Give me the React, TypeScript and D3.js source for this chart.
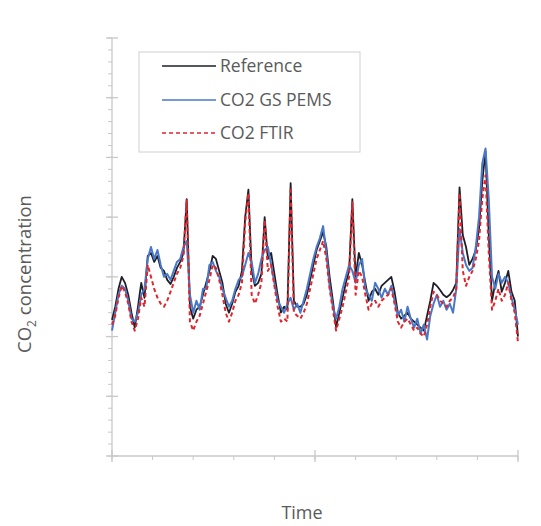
import React from "react";
import * as d3 from "d3";

const times: number[] = d3.range(0, 1001, 8);

const referenceValues: number[] = [
  22.8, 25, 28, 30, 29, 27, 24, 21.5, 25, 29,
  26.5, 33.5, 34, 32.5, 33.5, 31.5, 31, 29.5, 28.8, 30,
  31.5, 32.5, 34, 43, 25, 23, 24.5, 25, 27, 29,
  31, 33.5, 33, 31, 29, 25.5, 24, 25.5, 27.5, 28.5,
  31, 40, 44.6, 31, 28.5, 29, 30.5, 40, 33, 34,
  30.5, 27, 24, 25, 24.5, 45.7, 26, 25, 25, 25.5,
  27, 29.5, 32, 34.5, 36, 37.5, 35, 30, 26, 21.6,
  24, 26.5, 29, 31, 43, 30, 34, 32, 29, 26,
  27.5, 28, 27, 28.5, 29, 29.5, 30, 27.5, 24, 23,
  23.5, 24, 23, 22.5, 22, 21.5, 21, 23.5, 26, 29,
  28.5, 27.8, 27, 26.6, 27, 27.8, 29, 45, 37, 35,
  32, 33, 34.5, 38, 46, 51, 37, 26, 29, 31,
  27.5, 29, 31, 27.5, 26, 20,
];

const gsPemsValues: number[] = [
  21, 24, 27, 28.5, 28, 26, 23, 22.5, 24, 27,
  28, 33, 35, 33, 34.5, 32, 30, 30.5, 29.5, 31,
  32.5, 33, 35, 36, 27, 24, 26, 24.5, 28, 28,
  32, 32.5, 31, 30, 28, 26.5, 25, 26, 28, 29.5,
  30, 32, 34, 32.5, 29, 30.5, 33, 34.5, 35, 32,
  29, 26, 25, 24, 25.5, 26.5, 24.5, 25.5, 24, 26,
  28, 30.5, 33, 35, 36.5, 38.5, 34, 28.5, 25, 23,
  25, 28, 30, 32, 31, 29, 32, 33, 28, 27,
  26, 29, 28, 26.5, 28, 27, 28.5, 26, 23.5, 24.5,
  22.5, 25, 23, 21.5, 23, 20.5, 22, 19.5, 23.5, 25.5,
  27, 25, 26, 24.5, 25.5, 24, 28, 38, 34, 32,
  31, 31.5, 35, 40, 49, 51.5, 43, 30, 28, 30.5,
  29, 30, 29, 26.5, 24.5, 22,
];

const ftirValues: number[] = [
  22, 23.5, 26.5, 28.5, 27.5, 25.5, 22.5, 21, 23, 26.5,
  25, 32, 30, 28, 26.5, 25.5, 25, 26, 27.5, 29,
  30.5, 31.5, 33.5, 43, 22.5, 21, 22.5, 23.5, 25.5, 27.5,
  29.5, 32, 31.5, 29.5, 27, 24, 22.5, 24, 26, 27,
  29, 39, 44, 27, 25.5, 27, 29, 39.5, 31, 32,
  28.5, 25, 22.5, 23, 22.5, 45, 24, 23.5, 23, 24,
  25.5, 28, 30.5, 33, 34.5, 36, 33, 28, 24.5, 21,
  23, 25, 27.5, 30, 42.5, 27, 31, 30, 27, 24.5,
  25.5, 26, 25, 26, 26.5, 27, 28, 25.5, 22.5, 21.5,
  22.5, 23, 22, 21, 21.5, 20.5, 20, 22, 25, 27.5,
  27, 26, 25.5, 25, 26, 26.5, 28, 44, 31, 28.5,
  30, 31, 33, 36, 43, 47, 34, 24.5, 26, 28,
  26, 27, 29, 26, 24, 19,
];

const seriesNames: string[] = ["Reference", "CO2 GS PEMS", "CO2 FTIR"];
const seriesColors: string[] = ["#1e1e28", "#4a78c8", "#e0262c"];
const seriesDash: string[] = ["none", "none", "4 3"];
const seriesData: number[][] = [referenceValues, gsPemsValues, ftirValues];

const yMajorTicks: number[] = d3.range(0, 71, 10);
const yMinorTicks: number[] = d3.range(0, 71, 2);
const xMajorTicks: number[] = [0, 500, 1000];
const xMinorTicks: number[] = d3.range(0, 1001, 100);

const xAxisLabel = "Time";

export default function App() {
  const W = 541;
  const H = 526;
  const left = 112;
  const right = 518;
  const top = 38;
  const bottom = 456;

  const x = d3.scaleLinear().domain([0, 1000]).range([left, right]);
  const y = d3.scaleLinear().domain([0, 70]).range([bottom, top]);

  const line = d3
    .line<number>()
    .x((_, i) => x(times[i]))
    .y((d) => y(d));

  const axisColor = "#c8c8c8";
  const textColor = "#5a5a5a";
  const font = "'Open Sans', sans-serif";

  const legendX = 139;
  const legendY = 52;
  const legendW = 221;
  const legendH = 100;
  const rowYs = [66, 100, 133];

  return (
    <svg
      width={W}
      height={H}
      style={{ position: "fixed", left: 0, top: 0, background: "#fff" }}
    >
      <rect x={0} y={0} width={W} height={H} fill="#fff" />
      {/* y axis */}
      <line x1={left} x2={left} y1={top} y2={bottom} stroke={axisColor} strokeWidth={1.3} />
      {yMinorTicks.map((t) => (
        <line key={"ym" + t} x1={left - 4} x2={left} y1={y(t)} y2={y(t)} stroke={axisColor} strokeWidth={1} />
      ))}
      {yMajorTicks.map((t) => (
        <line key={"yM" + t} x1={left - 6} x2={left + 6} y1={y(t)} y2={y(t)} stroke={axisColor} strokeWidth={1.3} />
      ))}
      {/* x axis */}
      <line x1={left} x2={right} y1={bottom} y2={bottom} stroke={axisColor} strokeWidth={1.3} />
      {xMinorTicks.map((t) => (
        <line key={"xm" + t} x1={x(t)} x2={x(t)} y1={bottom} y2={bottom + 4} stroke={axisColor} strokeWidth={1} />
      ))}
      {xMajorTicks.map((t) => (
        <line key={"xM" + t} x1={x(t)} x2={x(t)} y1={bottom - 6} y2={bottom + 6} stroke={axisColor} strokeWidth={1.3} />
      ))}

      {/* series */}
      {seriesData.map((vals, k) => (
        <path
          key={"s" + k}
          d={line(vals) || ""}
          fill="none"
          stroke={seriesColors[k]}
          strokeWidth={k === 0 ? 1.8 : 2}
          strokeDasharray={seriesDash[k]}
          strokeLinejoin="round"
        />
      ))}

      {/* legend */}
      <rect
        x={legendX}
        y={legendY}
        width={legendW}
        height={legendH}
        fill="#fff"
        stroke="#d0d0d0"
        strokeWidth={1}
      />
      {seriesNames.map((name, k) => (
        <g key={"l" + k}>
          <line
            x1={162}
            x2={216}
            y1={rowYs[k]}
            y2={rowYs[k]}
            stroke={seriesColors[k]}
            strokeWidth={1.6}
            strokeDasharray={seriesDash[k]}
          />
          <text
            x={220}
            y={rowYs[k] + 6}
            fontFamily={font}
            fontSize={17.5}
            fill={textColor}
          >
            {name}
          </text>
        </g>
      ))}

      {/* axis titles */}
      <text
        x={302}
        y={519}
        textAnchor="middle"
        fontFamily={font}
        fontSize={18}
        fill={textColor}
      >
        {xAxisLabel}
      </text>
      <text
        transform={`translate(31, 274) rotate(-90)`}
        textAnchor="middle"
        fontFamily={font}
        fontSize={18.5}
        fill={textColor}
      >
        CO
        <tspan fontSize={12} dy={5}>2</tspan>
        <tspan dy={-5}> concentration</tspan>
      </text>
    </svg>
  );
}
